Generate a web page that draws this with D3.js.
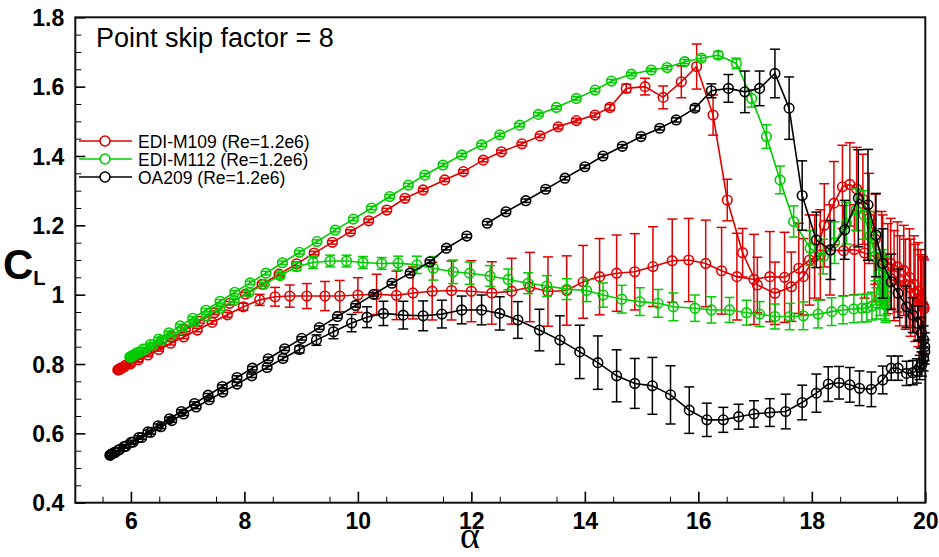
<!DOCTYPE html>
<html>
<head>
<meta charset="utf-8">
<script src="https://cdn.jsdelivr.net/npm/d3@7"></script>
<style>
  body { margin: 0; background: #fff; overflow: hidden; }
</style>
</head>
<body>
<div id="root"></div>
<script>
// tick values / labels
const xTicks = [6, 8, 10, 12, 14, 16, 18, 20];
const yTicks = [0.4, 0.6, 0.8, 1.0, 1.2, 1.4, 1.6, 1.8];
const yTickLabels = ["0.4", "0.6", "0.8", "1", "1.2", "1.4", "1.6", "1.8"];
const legendLabels = ["EDI-M109 (Re=1.2e6)", "EDI-M112 (Re=1.2e6)", "OA209 (Re=1.2e6)"];
const noteText = "Point skip factor = 8";

// [alpha, CL, error]; "Up" = pitch up, "Down" = pitch down
const m109Up = [
  [5.77,0.783,0.005],[5.79,0.785,0.005],[5.83,0.789,0.005],[5.90,0.796,0.005],[6.00,0.805,0.005],
  [6.14,0.819,0.005],[6.31,0.836,0.005],[6.51,0.855,0.005],[6.73,0.876,0.005],[6.96,0.899,0.005],
  [7.21,0.923,0.005],[7.47,0.948,0.005],[7.74,0.975,0.005],[8.02,1.002,0.005],[8.31,1.030,0.005],
  [8.61,1.059,0.005],[8.92,1.089,0.005],[9.23,1.120,0.005],[9.55,1.151,0.005],[9.87,1.182,0.005],
  [10.19,1.213,0.005],[10.51,1.244,0.005],[10.83,1.278,0.005],[11.15,1.302,0.005],[11.53,1.331,0.005],
  [11.86,1.355,0.005],[12.21,1.388,0.005],[12.53,1.412,0.005],[12.89,1.435,0.005],[13.21,1.458,0.005],
  [13.53,1.484,0.006],[13.85,1.502,0.006],[14.18,1.518,0.006],[14.44,1.540,0.008],[14.73,1.595,0.012],
  [15.06,1.600,0.024],[15.38,1.569,0.033],[15.70,1.614,0.046],[15.97,1.658,0.065],[16.26,1.518,0.058],
  [16.51,1.273,0.060],[16.78,1.121,0.070],[17.04,1.028,0.080],[17.35,1.004,0.090],[17.64,1.023,0.100],
  [17.85,1.052,0.110],[18.05,1.110,0.120],[18.22,1.200,0.120],[18.39,1.264,0.120],[18.54,1.311,0.120],
  [18.67,1.318,0.120],[18.79,1.305,0.120],[18.90,1.275,0.130],[19.01,1.220,0.130],[19.12,1.160,0.130],
  [19.23,1.110,0.130],[19.34,1.075,0.130],[19.45,1.055,0.130],[19.55,1.040,0.130],[19.65,1.030,0.130],
  [19.74,1.020,0.140],[19.82,1.005,0.140],[19.88,0.990,0.140],[19.93,0.975,0.140],[19.97,0.965,0.140]
];
const m109Down = [
  [19.98,0.960,0.140],[19.96,0.970,0.140],[19.92,0.990,0.140],[19.87,1.010,0.140],[19.80,1.030,0.140],
  [19.72,1.050,0.140],[19.62,1.070,0.130],[19.51,1.080,0.130],[19.39,1.090,0.130],[19.25,1.100,0.130],
  [19.10,1.110,0.130],[18.93,1.120,0.130],[18.75,1.130,0.130],[18.56,1.127,0.130],[18.32,1.129,0.130],
  [18.15,1.115,0.130],[17.96,1.100,0.130],[17.77,1.076,0.130],[17.52,1.050,0.130],[17.26,1.052,0.130],
  [16.98,1.044,0.130],[16.68,1.052,0.125],[16.41,1.069,0.125],[16.13,1.090,0.125],[15.83,1.100,0.120],
  [15.54,1.098,0.120],[15.20,1.081,0.115],[14.88,1.066,0.110],[14.56,1.062,0.110],[14.26,1.052,0.110],
  [13.97,1.037,0.105],[13.68,1.012,0.100],[13.35,1.009,0.100],[13.03,1.022,0.100],[12.71,1.010,0.095],
  [12.36,1.005,0.090],[12.00,1.010,0.088],[11.65,1.012,0.085],[11.31,1.010,0.083],[10.97,1.005,0.075],
  [10.68,0.998,0.070],[10.33,1.001,0.058],[10.00,0.999,0.050],[9.68,0.996,0.045],[9.42,0.996,0.042],
  [9.10,0.996,0.036],[8.80,0.996,0.032],[8.54,0.994,0.027],[8.27,0.985,0.016],[7.98,0.965,0.010],
  [7.70,0.942,0.007],[7.43,0.920,0.005],[7.17,0.898,0.005],[6.93,0.878,0.005],[6.70,0.860,0.005],
  [6.49,0.842,0.005],[6.30,0.826,0.005],[6.13,0.812,0.005],[5.99,0.800,0.005],[5.88,0.791,0.005],
  [5.81,0.785,0.005],[5.78,0.783,0.005]
];

const m112Up = [
  [5.98,0.820,0.005],[6.00,0.822,0.005],[6.04,0.826,0.005],[6.11,0.833,0.005],[6.21,0.843,0.005],
  [6.34,0.856,0.005],[6.49,0.872,0.005],[6.67,0.890,0.005],[6.87,0.910,0.005],[7.09,0.932,0.005],
  [7.32,0.955,0.005],[7.57,0.981,0.005],[7.83,1.007,0.005],[8.10,1.034,0.005],[8.38,1.062,0.005],
  [8.67,1.092,0.005],[8.97,1.122,0.005],[9.28,1.153,0.005],[9.60,1.186,0.005],[9.92,1.218,0.005],
  [10.24,1.250,0.005],[10.56,1.283,0.005],[10.89,1.316,0.005],[11.18,1.345,0.005],[11.50,1.374,0.005],
  [11.83,1.403,0.005],[12.18,1.432,0.005],[12.50,1.461,0.005],[12.85,1.489,0.005],[13.18,1.520,0.005],
  [13.50,1.540,0.005],[13.85,1.566,0.005],[14.18,1.590,0.005],[14.47,1.616,0.005],[14.82,1.636,0.005],
  [15.17,1.648,0.005],[15.45,1.655,0.006],[15.76,1.672,0.006],[16.05,1.682,0.008],[16.35,1.691,0.010],
  [16.67,1.667,0.015],[16.94,1.566,0.025],[17.20,1.456,0.034],[17.44,1.331,0.040],[17.68,1.211,0.045],
  [17.97,1.134,0.050],[18.20,1.110,0.050],[18.40,1.150,0.060],[18.61,1.206,0.060],[18.78,1.245,0.060],
  [18.92,1.230,0.070],[19.03,1.170,0.070],[19.12,1.110,0.070],[19.19,1.060,0.070],[19.24,1.020,0.060],
  [19.28,0.990,0.060],[19.30,0.975,0.050]
];
const m112Down = [
  [19.30,0.970,0.050],[19.30,1.000,0.060],[19.29,1.040,0.070],[19.27,1.060,0.070],[19.24,1.030,0.060],
  [19.20,0.990,0.050],[19.14,0.975,0.045],[19.06,0.967,0.040],[18.97,0.962,0.040],[18.88,0.961,0.040],
  [18.74,0.959,0.040],[18.55,0.956,0.040],[18.35,0.951,0.040],[18.11,0.944,0.040],[17.85,0.939,0.040],
  [17.61,0.937,0.038],[17.35,0.937,0.036],[17.08,0.944,0.036],[16.85,0.948,0.036],[16.55,0.956,0.036],
  [16.23,0.956,0.038],[15.94,0.961,0.038],[15.56,0.965,0.040],[15.29,0.975,0.040],[14.97,0.980,0.040],
  [14.65,0.987,0.040],[14.32,0.999,0.035],[14.03,1.012,0.032],[13.68,1.016,0.030],[13.33,1.025,0.030],
  [13.00,1.033,0.030],[12.65,1.044,0.030],[12.33,1.054,0.030],[11.97,1.062,0.032],[11.68,1.066,0.034],
  [11.33,1.076,0.034],[11.04,1.086,0.025],[10.71,1.091,0.020],[10.42,1.090,0.017],[10.09,1.093,0.017],
  [9.80,1.097,0.017],[9.51,1.097,0.017],[9.21,1.093,0.017],[8.92,1.081,0.012],[8.63,1.055,0.008],
  [8.35,1.030,0.005],[8.08,1.006,0.005],[7.82,0.983,0.005],[7.57,0.960,0.005],[7.33,0.939,0.005],
  [7.11,0.919,0.005],[6.90,0.900,0.005],[6.71,0.883,0.005],[6.54,0.868,0.005],[6.39,0.855,0.005],
  [6.26,0.843,0.005],[6.16,0.834,0.005],[6.08,0.827,0.005],[6.03,0.823,0.005],[6.00,0.820,0.005]
];

// the OA209 up-stroke line is broken between 11.9 and 12.3 deg
const oa209UpLow = [
  [5.63,0.537,0.005],[5.64,0.538,0.005],[5.66,0.540,0.005],[5.71,0.545,0.005],[5.78,0.552,0.005],
  [5.88,0.562,0.005],[6.00,0.574,0.005],[6.14,0.588,0.005],[6.30,0.604,0.005],[6.48,0.622,0.005],
  [6.68,0.642,0.005],[6.89,0.663,0.005],[7.12,0.686,0.005],[7.36,0.710,0.005],[7.61,0.735,0.005],
  [7.87,0.761,0.005],[8.14,0.788,0.005],[8.42,0.815,0.005],[8.71,0.844,0.005],[9.01,0.874,0.005],
  [9.32,0.905,0.005],[9.64,0.937,0.005],[9.96,0.969,0.005],[10.28,1.001,0.005],[10.60,1.033,0.005],
  [10.92,1.062,0.005],[11.27,1.095,0.005],[11.56,1.134,0.005],[11.92,1.169,0.005]
];
const oa209UpHigh = [
  [12.28,1.206,0.005],[12.61,1.239,0.005],[12.96,1.271,0.005],[13.31,1.304,0.005],[13.65,1.336,0.005],
  [14.00,1.369,0.005],[14.32,1.400,0.005],[14.66,1.428,0.005],[14.99,1.456,0.005],[15.32,1.480,0.005],
  [15.61,1.504,0.006],[15.94,1.538,0.008],[16.23,1.588,0.020],[16.53,1.595,0.040],[16.82,1.585,0.060],
  [17.08,1.595,0.050],[17.35,1.638,0.070],[17.60,1.538,0.090],[17.83,1.286,0.100],[18.08,1.158,0.080],
  [18.33,1.129,0.085],[18.58,1.187,0.085],[18.82,1.278,0.140],[18.99,1.259,0.160],[19.13,1.172,0.120],
  [19.25,1.090,0.100],[19.40,1.037,0.080],[19.52,1.004,0.070],[19.67,0.965,0.060],[19.78,0.941,0.050],
  [19.87,0.917,0.050],[19.93,0.890,0.045],[19.97,0.870,0.040],[19.99,0.850,0.040]
];
const oa209Down = [
  [19.99,0.835,0.035],[19.97,0.815,0.035],[19.94,0.800,0.035],[19.90,0.790,0.035],[19.85,0.780,0.035],
  [19.78,0.775,0.035],[19.67,0.773,0.035],[19.52,0.788,0.035],[19.40,0.788,0.035],[19.25,0.754,0.040],
  [19.05,0.727,0.050],[18.84,0.730,0.050],[18.67,0.740,0.050],[18.48,0.746,0.047],[18.29,0.742,0.050],
  [18.08,0.716,0.055],[17.83,0.689,0.050],[17.54,0.663,0.050],[17.26,0.660,0.040],[16.98,0.656,0.038],
  [16.71,0.648,0.036],[16.44,0.639,0.036],[16.15,0.639,0.048],[15.84,0.667,0.067],[15.51,0.711,0.084],
  [15.19,0.737,0.082],[14.88,0.744,0.072],[14.56,0.766,0.075],[14.23,0.804,0.077],[13.91,0.835,0.077],
  [13.56,0.869,0.070],[13.20,0.898,0.060],[12.82,0.927,0.053],[12.50,0.946,0.048],[12.18,0.956,0.043],
  [11.83,0.956,0.040],[11.48,0.944,0.040],[11.15,0.939,0.043],[10.80,0.941,0.040],[10.45,0.946,0.035],
  [10.16,0.935,0.030],[9.89,0.918,0.025],[9.57,0.893,0.020],[9.27,0.869,0.015],[8.97,0.842,0.010],
  [8.68,0.816,0.006],[8.40,0.790,0.005],[8.13,0.766,0.005],[7.87,0.742,0.005],[7.62,0.719,0.005],
  [7.38,0.697,0.005],[7.15,0.676,0.005],[6.93,0.656,0.005],[6.72,0.637,0.005],[6.53,0.619,0.005],
  [6.35,0.603,0.005],[6.19,0.588,0.005],[6.04,0.575,0.005],[5.91,0.563,0.005],[5.80,0.553,0.005],
  [5.72,0.545,0.005],[5.67,0.541,0.005],[5.64,0.538,0.005]
];

const seriesList = [
  { label: legendLabels[0], color: "#e00000", branches: [m109Up, m109Down] },
  { label: legendLabels[1], color: "#00cc00", branches: [m112Up, m112Down] },
  { label: legendLabels[2], color: "#000000", branches: [oa209UpLow, oa209UpHigh, oa209Down] }
];

const width = 939;
const height = 557;
const margin = { top: 17.3, right: 13.7, bottom: 54.3, left: 75.3 };
const innerWidth = width - margin.left - margin.right;
const innerHeight = height - margin.top - margin.bottom;

const svg = d3.select("#root")
  .append("svg")
  .attr("width", width)
  .attr("height", height)
  .attr("viewBox", `0 0 ${width} ${height}`)
  .style("display", "block");

const chart = svg.append("g")
  .attr("transform", `translate(${margin.left}, ${margin.top})`);

// scales
const xScale = d3.scaleLinear().domain([5.02, 20]).range([0, innerWidth]);
const yScale = d3.scaleLinear().domain([0.4, 1.8]).range([innerHeight, 0]);

const tickFont = "'Liberation Sans', Arial, Helvetica, sans-serif";

// minor ticks
const xMinor = d3.range(5.5, 20, 1);
const yMinor = d3.range(9, 36, 2).map(k => k * 0.05).concat(d3.range(1, 8).map(k => 0.3 + k * 0.2));

chart.append("g")
  .attr("transform", `translate(0, ${innerHeight})`)
  .call(d3.axisBottom(xScale).tickValues(xMinor).tickSize(-6).tickFormat(""))
  .call(g => g.select(".domain").remove())
  .selectAll("line").attr("stroke", "#000").attr("stroke-width", 1);

chart.append("g")
  .call(d3.axisLeft(yScale).tickValues(yMinor).tickSize(-6).tickFormat(""))
  .call(g => g.select(".domain").remove())
  .selectAll("line").attr("stroke", "#000").attr("stroke-width", 1);

// major ticks with labels
const bottomAxis = chart.append("g")
  .attr("transform", `translate(0, ${innerHeight})`)
  .call(d3.axisBottom(xScale).tickValues(xTicks).tickSize(-11).tickPadding(10).tickFormat(d3.format("d")))
  .call(g => g.select(".domain").remove());
bottomAxis.selectAll("line").attr("stroke", "#000").attr("stroke-width", 1.6);
bottomAxis.selectAll("text")
  .attr("fill", "#000")
  .style("font-family", tickFont)
  .style("font-weight", "bold")
  .style("font-size", "23px");

const leftAxis = chart.append("g")
  .call(d3.axisLeft(yScale).tickValues(yTicks).tickSize(-10).tickPadding(11)
    .tickFormat((d, i) => yTickLabels[i]))
  .call(g => g.select(".domain").remove());
leftAxis.selectAll("line").attr("stroke", "#000").attr("stroke-width", 1.6);
leftAxis.selectAll("text")
  .attr("fill", "#000")
  .attr("dy", "0.36em")
  .style("font-family", tickFont)
  .style("font-weight", "bold")
  .style("font-size", "23px");

// data
const line = d3.line()
  .x(d => xScale(d[0]))
  .y(d => yScale(d[1]));

const capHalf = 5;

seriesList.forEach(s => {
  const g = chart.append("g");
  s.branches.forEach(branch => {
    g.append("path")
      .datum(branch)
      .attr("d", line)
      .attr("fill", "none")
      .attr("stroke", s.color)
      .attr("stroke-width", 1.6);

    const bars = g.append("g")
      .attr("stroke", s.color)
      .attr("stroke-width", 1.5)
      .selectAll("g")
      .data(branch)
      .join("g");
    bars.append("line")
      .attr("x1", d => xScale(d[0])).attr("x2", d => xScale(d[0]))
      .attr("y1", d => yScale(d[1] - d[2])).attr("y2", d => yScale(d[1] + d[2]));
    bars.append("line")
      .attr("x1", d => xScale(d[0]) - capHalf).attr("x2", d => xScale(d[0]) + capHalf)
      .attr("y1", d => yScale(d[1] + d[2])).attr("y2", d => yScale(d[1] + d[2]));
    bars.append("line")
      .attr("x1", d => xScale(d[0]) - capHalf).attr("x2", d => xScale(d[0]) + capHalf)
      .attr("y1", d => yScale(d[1] - d[2])).attr("y2", d => yScale(d[1] - d[2]));

    g.append("g")
      .selectAll("circle")
      .data(branch)
      .join("circle")
      .attr("cx", d => xScale(d[0]))
      .attr("cy", d => yScale(d[1]))
      .attr("r", 4.8)
      .attr("fill", "none")
      .attr("stroke", s.color)
      .attr("stroke-width", 1.6);
  });
});

// frame
chart.append("rect")
  .attr("width", innerWidth)
  .attr("height", innerHeight)
  .attr("fill", "none")
  .attr("stroke", "#111")
  .attr("stroke-width", 2);

// note
svg.append("text")
  .attr("x", 96)
  .attr("y", 47)
  .attr("fill", "#000")
  .style("font-family", tickFont)
  .style("font-size", "27px")
  .text(noteText);

// legend
const legend = svg.append("g").attr("transform", "translate(79, 141)");
const legendRows = legend.selectAll("g")
  .data(seriesList)
  .join("g")
  .attr("transform", (d, i) => `translate(0, ${i * 18})`);
legendRows.append("line")
  .attr("x1", 0).attr("x2", 53)
  .attr("stroke", d => d.color)
  .attr("stroke-width", 1.6);
legendRows.append("circle")
  .attr("cx", 26).attr("r", 5)
  .attr("fill", "#fff")
  .attr("stroke", d => d.color)
  .attr("stroke-width", 1.6);
legendRows.append("text")
  .attr("x", 59)
  .attr("y", 6.5)
  .attr("fill", "#000")
  .style("font-family", tickFont)
  .style("font-size", "17.5px")
  .text(d => d.label);

// axis titles
svg.append("text")
  .attr("x", 470)
  .attr("y", 548)
  .attr("text-anchor", "middle")
  .attr("fill", "#000")
  .style("font-family", "'Liberation Serif', 'Times New Roman', serif")
  .style("font-size", "38px")
  .text("α");

const yTitle = svg.append("text")
  .attr("x", 3)
  .attr("y", 279)
  .attr("fill", "#000")
  .style("font-family", tickFont)
  .style("font-weight", "bold");
yTitle.append("tspan").style("font-size", "42px").text("C");
yTitle.append("tspan").attr("dy", 6).style("font-size", "20px").text("L");
</script>
</body>
</html>
